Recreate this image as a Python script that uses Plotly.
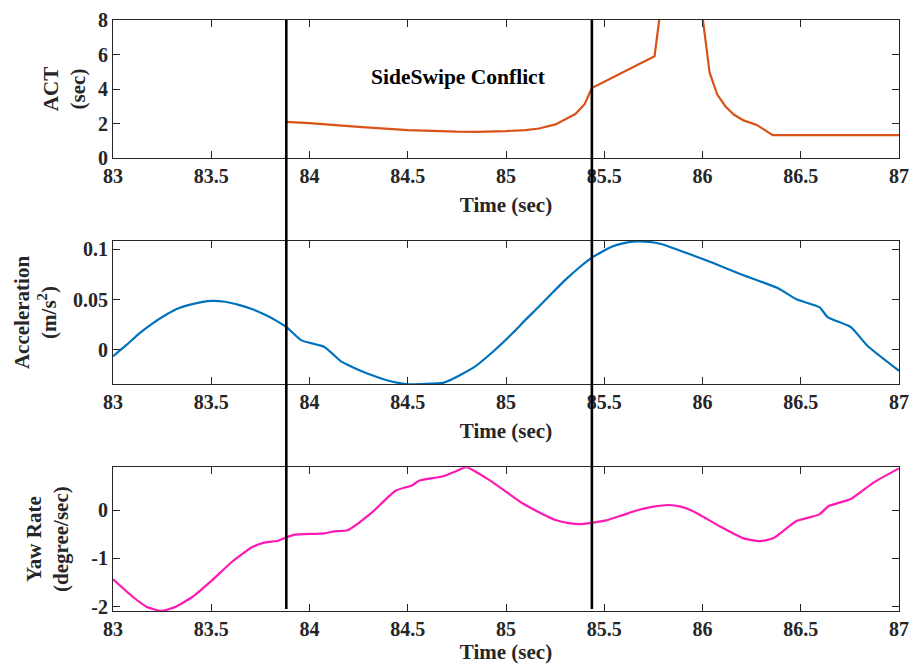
import plotly.graph_objects as go
from plotly.subplots import make_subplots

# ---------------- data ----------------
act_t = [83.88, 84.0, 84.25, 84.5, 84.75, 84.85, 85.0, 85.1, 85.168, 85.252, 85.30,
         85.353, 85.40, 85.437, 85.756, 85.80, 85.98, 86.036, 86.075, 86.117, 86.159,
         86.209, 86.276, 86.357, 87.0]
act_v = [2.10, 2.02, 1.80, 1.62, 1.53, 1.52, 1.56, 1.62, 1.71, 1.95, 2.23,
         2.55, 3.12, 4.06, 5.90, 9.8, 10.0, 4.96, 3.68, 2.99, 2.52,
         2.18, 1.92, 1.33, 1.33]

acc_t = [83.0, 83.07, 83.136, 83.2, 83.27, 83.33, 83.388, 83.45, 83.505, 83.57, 83.64,
         83.71, 83.774, 83.83, 83.883, 83.959, 84.076, 84.16, 84.22, 84.278, 84.34,
         84.395, 84.45, 84.505, 84.68, 84.72, 84.76, 84.832, 84.916, 85.034, 85.1,
         85.168, 85.235, 85.302, 85.37, 85.437, 85.537, 85.6, 85.663, 85.73, 85.789,
         85.923, 86.058, 86.192, 86.385, 86.478, 86.595, 86.637, 86.755, 86.839, 87.0]
acc_v = [-0.0066, 0.005, 0.0166, 0.026, 0.0348, 0.041, 0.0447, 0.0475, 0.0487, 0.0478, 0.0447,
         0.0403, 0.0348, 0.029, 0.0225, 0.0093, 0.0027, -0.0116, -0.0175, -0.0225, -0.027,
         -0.0305, -0.033, -0.0345, -0.0330, -0.030, -0.026, -0.0182, -0.005, 0.0166, 0.030,
         0.043, 0.0565, 0.0696, 0.0815, 0.0918, 0.1027, 0.1063, 0.108, 0.1075, 0.1054,
         0.0961, 0.0862, 0.0755, 0.0613, 0.0503, 0.0424, 0.0325, 0.0225, 0.004, -0.021]

yaw_t = [83.0, 83.10, 83.17, 83.245, 83.32, 83.405, 83.505, 83.606, 83.707, 83.774, 83.841,
         83.892, 83.925, 84.076, 84.126, 84.194, 84.312, 84.438, 84.521, 84.56, 84.68,
         84.748, 84.798, 84.916, 85.0, 85.084, 85.17, 85.252, 85.32, 85.386, 85.504,
         85.59, 85.672, 85.75, 85.823, 85.89, 85.957, 86.092, 86.209, 86.293, 86.36,
         86.478, 86.595, 86.642, 86.755, 86.872, 87.0]
yaw_v = [-1.435, -1.795, -2.0, -2.09, -2.0, -1.795, -1.45, -1.07, -0.77, -0.67, -0.635,
         -0.55, -0.51, -0.483, -0.44, -0.42, -0.07, 0.40, 0.51, 0.61, 0.70,
         0.81, 0.89, 0.62, 0.38, 0.14, -0.05, -0.207, -0.27, -0.29, -0.22,
         -0.11, 0.0, 0.07, 0.104, 0.07, -0.035, -0.345, -0.586, -0.642, -0.586,
         -0.228, -0.089, 0.083, 0.228, 0.573, 0.863]

event_times = [83.882, 85.437]
x_ticks = [83, 83.5, 84, 84.5, 85, 85.5, 86, 86.5, 87]
act_ticks = [0, 2, 4, 6, 8]
acc_ticks = [0, 0.05, 0.1]
acc_ticklabels = ["0", "0.05", "0.1"]
yaw_ticks = [-2, -1, 0]
yaw_ticklabels = ["-2", "-1", "0"]
annotation_text = "SideSwipe Conflict"

# ---------------- figure ----------------
FONT = "Liberation Serif"
AX = "#262626"
fig = make_subplots(rows=3, cols=1, shared_xaxes=False)

fig.add_trace(go.Scatter(x=act_t, y=act_v, mode="lines",
                         line=dict(color="#D95319", width=2.2), showlegend=False), row=1, col=1)
fig.add_trace(go.Scatter(x=acc_t, y=acc_v, mode="lines",
                         line=dict(color="#0072BD", width=2.2, shape="spline", smoothing=0.5),
                         showlegend=False), row=2, col=1)
fig.add_trace(go.Scatter(x=yaw_t, y=yaw_v, mode="lines",
                         line=dict(color="#FF19B3", width=2.2, shape="spline", smoothing=0.5),
                         showlegend=False), row=3, col=1)

# page offset of 8px (browser body margin) on every side is compensated below,
# so that the whole page is exactly 919 x 672 (no scrollbars)
OFF = 8
TOP = 20.0   # page y of the top edge of the upper plot
BOT = 611.0  # page y of the bottom edge of the lower plot
H = BOT - TOP
def dom(top_px, bot_px):
    return [(BOT - bot_px) / H, (BOT - top_px) / H]

common_axis = dict(showline=True, linecolor=AX, linewidth=1, mirror="ticks",
                   ticks="inside", ticklen=7, tickcolor=AX, tickwidth=1,
                   showgrid=False, zeroline=False, automargin=False,
                   ticklabeloverflow="allow",
                   tickfont=dict(family=FONT, size=20, color=AX, weight="bold"))

xfont = dict(family=FONT, size=21, color=AX, weight="bold")
standoffs = [11, 11, 6]
for i, d in enumerate([dom(TOP, 158), dom(240.7, 384.3), dom(467.3, BOT)]):
    n = "" if i == 0 else str(i + 1)
    fig.layout["xaxis" + n].update(range=[83, 87], tickvals=x_ticks, ticktext=[f"{v:g}" for v in x_ticks],
                                  title=dict(text="Time (sec)", font=xfont, standoff=standoffs[i]),
                                  domain=[0, 1], **common_axis)
    fig.layout["yaxis" + n].update(domain=d, **common_axis)

ytfont = dict(family=FONT, size=21, color=AX, weight="bold")
fig.update_layout(
    yaxis=dict(range=[0, 8], tickvals=act_ticks, ticktext=[str(v) for v in act_ticks],
               title=dict(text="ACT<br>(sec)", font=ytfont, standoff=6)),
    yaxis2=dict(range=[-0.0345, 0.1087], tickvals=acc_ticks, ticktext=acc_ticklabels,
                title=dict(text="Acceleration<br>(m/s<sup>2</sup>)", font=ytfont, standoff=10)),
    yaxis3=dict(range=[-2.09, 0.885], tickvals=yaw_ticks, ticktext=yaw_ticklabels,
                title=dict(text="Yaw Rate<br>(degree/sec)", font=ytfont, standoff=16)),
)

for t in event_times:
    fig.add_shape(type="line", xref="x", yref="paper", x0=t, x1=t,
                  y0=(BOT - 609) / H, y1=1.0,
                  line=dict(color="black", width=2.6), layer="above")

fig.add_annotation(x=84.76, y=4.7, xref="x", yref="y", text=annotation_text, showarrow=False,
                   font=dict(family=FONT, size=21.5, color="black", weight="bold"))

W = 919 - 2 * OFF
HT = 672 - 2 * OFF
fig.update_layout(width=W, height=HT,
                  margin=dict(l=113 - OFF, r=12, t=TOP - OFF, b=HT - (BOT - OFF), autoexpand=False),
                  plot_bgcolor="white", paper_bgcolor="white",
                  font=dict(family=FONT, color=AX))

fig.write_html("out.html")
